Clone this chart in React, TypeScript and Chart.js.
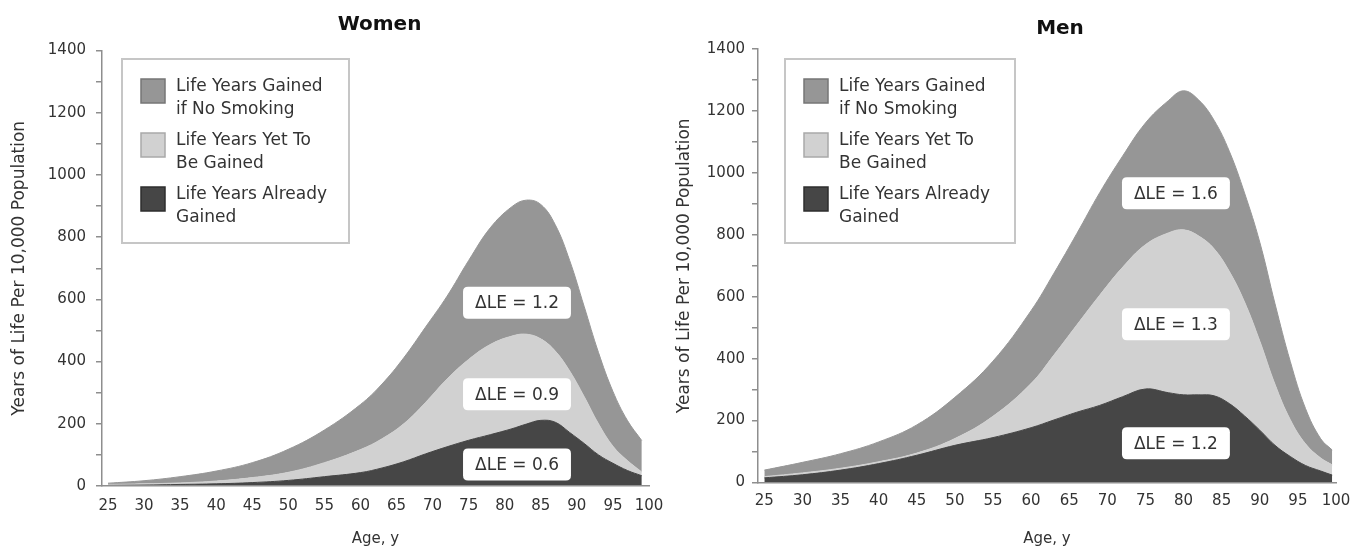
import React, { useEffect, useRef } from 'react';
import { Chart, registerables } from 'chart.js';

Chart.register(...registerables);

// ---------------- data (upper boundary of each band, years of life per 10,000 population) ----------------
const womenAges = [25, 30, 35, 40, 45, 50, 55, 60, 63, 66, 69, 72, 75, 78, 81, 83, 85, 87, 89, 91, 93, 95, 97, 99];
const womenAlreadyGained = [2, 3, 5, 7, 11, 18, 30, 43, 58, 78, 103, 126, 147, 165, 184, 199, 211, 205, 172, 137, 100, 73, 50, 33];
const womenYetToBeGainedTop = [5, 7, 10, 16, 27, 44, 75, 117, 152, 200, 268, 344, 407, 455, 482, 488, 473, 434, 370, 288, 200, 128, 82, 45];
const womenNoSmokingTop = [9, 17, 30, 48, 75, 118, 180, 262, 328, 412, 510, 610, 725, 830, 898, 919, 905, 840, 725, 578, 429, 304, 211, 146];

const menAges = [25, 30, 35, 40, 45, 50, 55, 60, 63, 66, 69, 72, 75, 78, 80, 82, 84, 86, 88, 90, 92, 94, 96, 98, 99.5];
const menAlreadyGained = [15, 25, 40, 61, 88, 120, 145, 177, 202, 227, 249, 277, 302, 290, 283, 283, 280, 255, 215, 169, 120, 84, 55, 37, 24];
const menYetToBeGainedTop = [19, 31, 46, 67, 95, 142, 214, 320, 412, 509, 605, 695, 768, 806, 816, 796, 755, 682, 583, 457, 317, 203, 125, 79, 57];
const menNoSmokingTop = [40, 65, 93, 131, 186, 275, 392, 555, 676, 804, 936, 1054, 1161, 1233, 1265, 1235, 1170, 1070, 935, 776, 577, 391, 239, 141, 105];

const xTickValues = [25, 30, 35, 40, 45, 50, 55, 60, 65, 70, 75, 80, 85, 90, 95, 100];
const yTickLabels = [0, 200, 400, 600, 800, 1000, 1200, 1400];

const seriesNames = ['Life Years Already Gained', 'Life Years Yet To Be Gained', 'Life Years Gained if No Smoking'];
const legendLines = [
  ['Life Years Gained', 'if No Smoking'],
  ['Life Years Yet To', 'Be Gained'],
  ['Life Years Already', 'Gained'],
];

const womenDeltaTexts = ['ΔLE = 1.2', 'ΔLE = 0.9', 'ΔLE = 0.6'];
const womenDeltaAge = 81.7;
const womenDeltaValues = [589, 295, 69];

const menDeltaTexts = ['ΔLE = 1.6', 'ΔLE = 1.3', 'ΔLE = 1.2'];
const menDeltaAge = 79.0;
const menDeltaValues = [934, 511, 127];

// ---------------- styles ----------------
const FONT = "'DejaVu Sans', Verdana, sans-serif";
const DARK = '#464646';
const LIGHT = '#d1d1d1';
const MID = '#969696';
const AXIS = '#8e8e8e';
const TEXT = '#333333';

type Layout = {
  canvasLeft: number;
  width: number;
  padTop: number;
  padRight: number;
  yAxisWidth: number;
  xAxisHeight: number;
  yTickPad: number;
  yTitlePad: number;
  xTickPad: number;
  titleX: number;
  titleY: number;
  legendX: number;
  legendY: number;
  legendW: number;
  legendH: number;
};

type PanelData = {
  title: string;
  ages: number[];
  already: number[];
  yetTop: number[];
  noSmokingTop: number[];
  deltaTexts: string[];
  deltaAge: number;
  deltaValues: number[];
};

const womenPanel: PanelData = {
  title: 'Women',
  ages: womenAges,
  already: womenAlreadyGained,
  yetTop: womenYetToBeGainedTop,
  noSmokingTop: womenNoSmokingTop,
  deltaTexts: womenDeltaTexts,
  deltaAge: womenDeltaAge,
  deltaValues: womenDeltaValues,
};

const menPanel: PanelData = {
  title: 'Men',
  ages: menAges,
  already: menAlreadyGained,
  yetTop: menYetToBeGainedTop,
  noSmokingTop: menNoSmokingTop,
  deltaTexts: menDeltaTexts,
  deltaAge: menDeltaAge,
  deltaValues: menDeltaValues,
};

const womenLayout: Layout = {
  canvasLeft: 0, width: 680, padTop: 50.5, padRight: 31, yAxisWidth: 102, xAxisHeight: 62,
  yTickPad: 10, yTitlePad: 9, xTickPad: 11, titleX: 379.5, titleY: 25,
  legendX: 122, legendY: 59, legendW: 227, legendH: 184,
};

const menLayout: Layout = {
  canvasLeft: 660, width: 697, padTop: 49, padRight: 21, yAxisWidth: 98, xAxisHeight: 65.5,
  yTickPad: 7, yTitlePad: 14, xTickPad: 9.5, titleX: 400, titleY: 29,
  legendX: 125, legendY: 59, legendW: 230, legendH: 184,
};

function roundRectPath(ctx: CanvasRenderingContext2D, x: number, y: number, w: number, h: number, r: number) {
  ctx.beginPath();
  ctx.moveTo(x + r, y);
  ctx.lineTo(x + w - r, y);
  ctx.quadraticCurveTo(x + w, y, x + w, y + r);
  ctx.lineTo(x + w, y + h - r);
  ctx.quadraticCurveTo(x + w, y + h, x + w - r, y + h);
  ctx.lineTo(x + r, y + h);
  ctx.quadraticCurveTo(x, y + h, x, y + h - r);
  ctx.lineTo(x, y + r);
  ctx.quadraticCurveTo(x, y, x + r, y);
  ctx.closePath();
}

function PanelChart({ panel, layout }: { panel: PanelData; layout: Layout }) {
  const ref = useRef<HTMLCanvasElement | null>(null);

  useEffect(() => {
    const canvas = ref.current;
    if (!canvas) return;
    const L = layout;

    const colors = [DARK, LIGHT, MID];
    const borders = ['#2e2e2e', '#a9a9a9', '#767676'];
    const seriesValues = [panel.already, panel.yetTop, panel.noSmokingTop];

    const overlay = {
      id: 'overlay',
      afterDraw(chart: any) {
        const ctx: CanvasRenderingContext2D = chart.ctx;
        const xs = chart.scales.x;
        const ys = chart.scales.y;
        ctx.save();

        // title
        ctx.font = `bold 20px ${FONT}`;
        ctx.fillStyle = '#111';
        ctx.textAlign = 'center';
        ctx.textBaseline = 'middle';
        ctx.fillText(panel.title, L.titleX, L.titleY);

        // legend box
        ctx.fillStyle = '#ffffff';
        ctx.fillRect(L.legendX, L.legendY, L.legendW, L.legendH);
        ctx.strokeStyle = '#c6c6c6';
        ctx.lineWidth = 2;
        ctx.strokeRect(L.legendX, L.legendY, L.legendW, L.legendH);
        const order = [2, 1, 0];
        order.forEach((di, i) => {
          const sx = L.legendX + 19;
          const sy = L.legendY + 20 + i * 54;
          ctx.fillStyle = colors[di];
          ctx.fillRect(sx, sy, 24, 24);
          ctx.strokeStyle = borders[di];
          ctx.lineWidth = 1.5;
          ctx.strokeRect(sx, sy, 24, 24);
          ctx.fillStyle = TEXT;
          ctx.font = `17px ${FONT}`;
          ctx.textAlign = 'left';
          ctx.textBaseline = 'middle';
          const lines = legendLines[i];
          ctx.fillText(lines[0], L.legendX + 54, sy + 8);
          ctx.fillText(lines[1], L.legendX + 54, sy + 31);
        });

        // delta LE labels
        ctx.font = `17px ${FONT}`;
        panel.deltaTexts.forEach((t, i) => {
          const px = xs.getPixelForValue(panel.deltaAge);
          const py = ys.getPixelForValue(panel.deltaValues[i]);
          const w = ctx.measureText(t).width + 24;
          const h = 32;
          roundRectPath(ctx, px - w / 2, py - h / 2, w, h, 5);
          ctx.fillStyle = '#ffffff';
          ctx.fill();
          ctx.fillStyle = TEXT;
          ctx.textAlign = 'center';
          ctx.textBaseline = 'middle';
          ctx.fillText(t, px, py + 1);
        });
        ctx.restore();
      },
    };

    const chart = new Chart(canvas, {
      type: 'line',
      data: {
        datasets: seriesValues.map((vals, di) => ({
          label: seriesNames[di],
          data: panel.ages.map((a, i) => ({ x: a, y: vals[i] })),
          fill: di === 0 ? 'origin' : '-1',
          backgroundColor: colors[di],
          borderColor: colors[di],
          borderWidth: 1,
          pointRadius: 0,
          tension: 0.4,
        })),
      },
      options: {
        responsive: false,
        animation: false,
        devicePixelRatio: 1,
        layout: { padding: { top: L.padTop, right: L.padRight, left: 0, bottom: 0 } },
        plugins: {
          legend: { display: false },
          tooltip: { enabled: false },
          title: { display: false },
        },
        scales: {
          x: {
            type: 'linear',
            min: 24.17,
            max: 100,
            afterBuildTicks: (axis: any) => {
              axis.ticks = xTickValues.map((v) => ({ value: v }));
            },
            afterFit: (axis: any) => {
              axis.height = L.xAxisHeight;
              axis.paddingLeft = 0;
              axis.paddingRight = 0;
            },
            grid: { display: false, drawTicks: false },
            border: { display: true, color: AXIS, width: 1.5, z: 1 },
            ticks: {
              font: { size: 15, family: FONT },
              color: TEXT,
              padding: L.xTickPad,
              maxRotation: 0,
              autoSkip: false,
            },
            title: {
              display: true,
              text: 'Age, y',
              font: { size: 15, family: FONT },
              color: TEXT,
              padding: { top: 0, bottom: 0 },
            },
          },
          y: {
            type: 'linear',
            min: 0,
            max: 1400,
            afterFit: (axis: any) => {
              axis.width = L.yAxisWidth;
              axis.paddingTop = 0;
              axis.paddingBottom = 0;
            },
            ticks: {
              stepSize: 100,
              autoSkip: false,
              callback: (v: any) => (yTickLabels.includes(Number(v)) ? String(v) : ''),
              font: { size: 15, family: FONT },
              color: TEXT,
              padding: L.yTickPad,
            },
            grid: {
              display: true,
              drawOnChartArea: false,
              drawTicks: true,
              tickLength: 6,
              color: AXIS,
              lineWidth: 1.5,
            },
            border: { display: true, color: AXIS, width: 1.5, z: 1 },
            title: {
              display: true,
              text: 'Years of Life Per 10,000 Population',
              font: { size: 17, family: FONT },
              color: TEXT,
              padding: { top: L.yTitlePad, bottom: 0 },
            },
          },
        },
      } as any,
      plugins: [overlay],
    });

    return () => chart.destroy();
  }, [panel, layout]);

  return (
    <canvas
      ref={ref}
      width={layout.width}
      height={548}
      style={{ position: 'absolute', left: layout.canvasLeft, top: 0, width: layout.width, height: 548 }}
    />
  );
}

export default function App() {
  return (
    <div style={{ position: 'absolute', left: 0, top: 0, width: 1357, height: 548, background: '#ffffff', overflow: 'hidden' }}>
      <PanelChart panel={womenPanel} layout={womenLayout} />
      <PanelChart panel={menPanel} layout={menLayout} />
    </div>
  );
}
